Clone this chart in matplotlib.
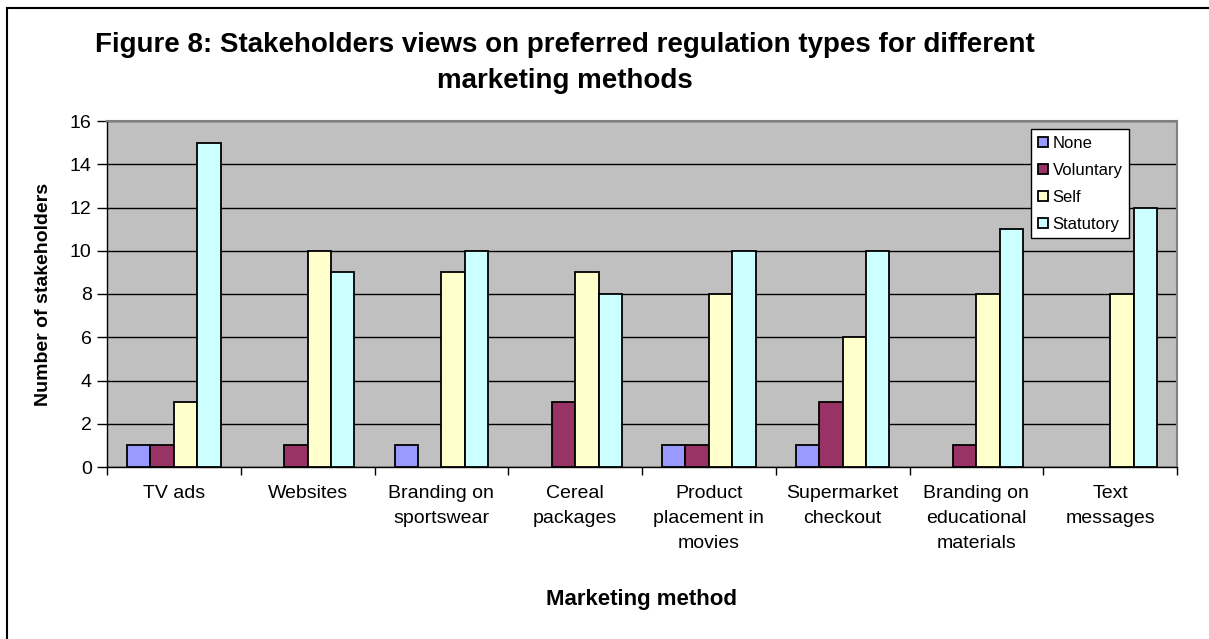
import numpy as np
import matplotlib
matplotlib.use("Agg")
import matplotlib.pyplot as plt
from matplotlib.patches import Rectangle

plt.rcParams["font.family"] = ["Liberation Sans", "DejaVu Sans"]

# ---------------------------------------------------------------- data
methods = [
    "TV ads", "Websites", "Branding on\nsportswear", "Cereal\npackages",
    "Product\nplacement in\nmovies", "Supermarket\ncheckout",
    "Branding on\neducational\nmaterials", "Text\nmessages",
]
none_vals = [1, 0, 1, 0, 1, 1, 0, 0]
voluntary_vals = [1, 1, 0, 3, 1, 3, 1, 0]
self_vals = [3, 10, 9, 9, 8, 6, 8, 8]
statutory_vals = [15, 9, 10, 8, 10, 10, 11, 12]

series = [
    ("None", none_vals, "#9999FF"),
    ("Voluntary", voluntary_vals, "#993366"),
    ("Self", self_vals, "#FFFFCC"),
    ("Statutory", statutory_vals, "#CCFFFF"),
]

W, H = 1209, 639
fig = plt.figure(figsize=(W / 100, H / 100), dpi=100)
fig.patch.set_facecolor("white")

# outer chart frame (runs off the right and bottom edges)
fig.patches.append(Rectangle((7 / W, -0.05), 1.2, 1 - 8 / H + 0.05,
                             transform=fig.transFigure, fill=False,
                             edgecolor="black", lw=1.5))

ax = fig.add_axes([107 / W, 1 - 467 / H, 1070 / W, 346 / H])
ax.set_facecolor("#C0C0C0")

x = np.arange(len(methods))
bw = 0.175
for i, (name, vals, col) in enumerate(series):
    # zero counts get no outline so no stray line sits on the baseline
    lws = [1.3 if v else 0 for v in vals]
    ax.bar(x + (i - 1.5) * bw, vals, width=bw, color=col, edgecolor="black",
           linewidth=lws, label=name, zorder=3)

ax.set_xlim(-0.5, len(methods) - 0.5)
ax.set_ylim(0, 16)
ax.set_yticks(range(0, 17, 2))
ax.yaxis.grid(True, color="black", lw=1.0, zorder=1)
ax.set_axisbelow(True)

ax.set_xticks(x)
ax.set_xticklabels(methods, fontsize=14, linespacing=1.62, va="top")
ax.set_xticks(np.arange(-0.5, len(methods)), minor=True)
ax.tick_params(axis="x", which="major", length=0, pad=13)
ax.tick_params(axis="x", which="minor", length=6, width=1, direction="out")
ax.tick_params(axis="y", length=7, width=1, direction="out", labelsize=14, pad=4)

for s in ("top", "right"):
    ax.spines[s].set_color("#808080")
    ax.spines[s].set_linewidth(1.5)
for s in ("left", "bottom"):
    ax.spines[s].set_color("black")
    ax.spines[s].set_linewidth(1.0)

fig.text(44 / W, 1 - 294 / H, "Number of stakeholders", rotation=90,
         ha="center", va="center", fontsize=14, fontweight="bold")
fig.text(642 / W, 1 - 599 / H, "Marketing method",
         ha="center", va="center", fontsize=16, fontweight="bold")

# two-line title, each line placed on its own baseline
fig.text(565 / W, 1 - 52 / H,
         "Figure 8: Stakeholders views on preferred regulation types for different",
         ha="center", va="baseline", fontsize=20, fontweight="bold")
fig.text(565 / W, 1 - 88 / H, "marketing methods",
         ha="center", va="baseline", fontsize=20, fontweight="bold")

leg = ax.legend(loc="upper left", bbox_to_anchor=((1031 - 107) / 1070, (467 - 129) / 346),
                fontsize=12, frameon=True, fancybox=False, framealpha=1,
                borderpad=0.4, handlelength=0.6, handleheight=0.6,
                handletextpad=0.3, labelspacing=0.72, borderaxespad=0)
leg.get_frame().set_edgecolor("black")
leg.get_frame().set_linewidth(1.0)
leg.set_zorder(5)

fig.savefig("out.png", dpi=100)
